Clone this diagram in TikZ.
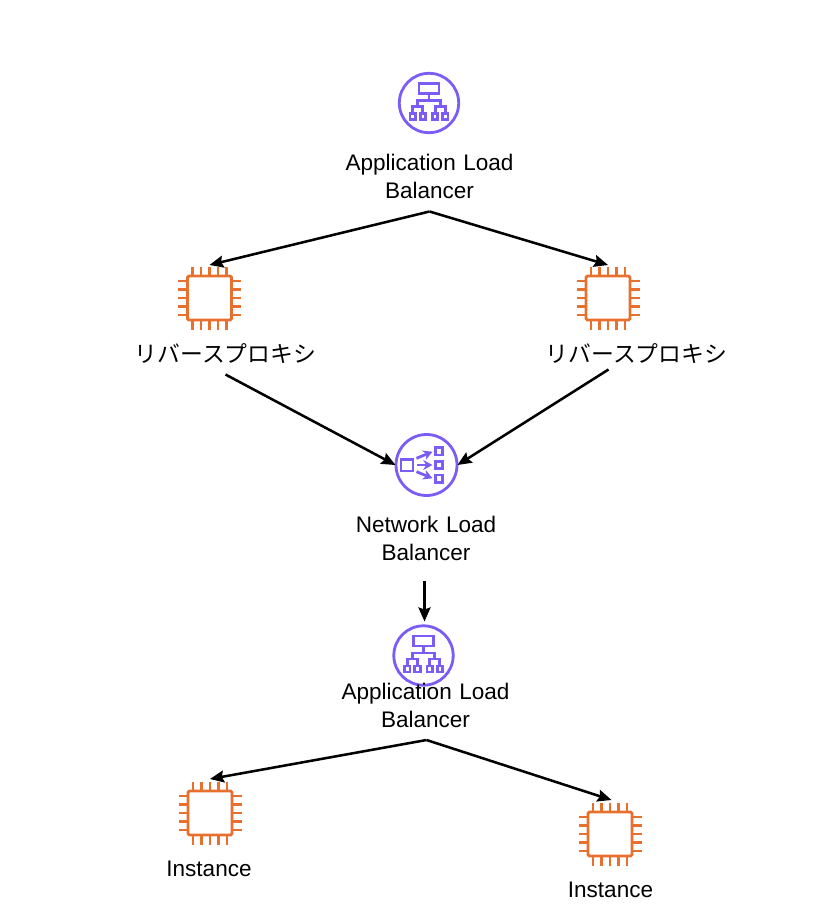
\documentclass[tikz,border=0pt]{standalone}
\usepackage{fontspec}
\setmainfont{Liberation Sans}
\newfontfamily\cjk{Noto Sans CJK JP}
\usetikzlibrary{arrows.meta,calc}
\definecolor{albpurple}{HTML}{7B5CF5}
\definecolor{chiporange}{HTML}{E8702F}
\tikzset{
  iconnode/.style={minimum size=#1,inner sep=0pt,outer sep=0pt},
  lbl/.style={align=center,inner sep=0pt,outer sep=0pt,font=\fontsize{16.9pt}{21pt}\selectfont,text=black},
  conn/.style={draw=black,line width=1.9pt,-{Stealth[length=10.5pt,width=9pt,inset=1.5pt]}},
  albicon/.pic={
    \begin{scope}[albpurple,line width=2.1pt]
      \draw (0,0) circle (29.7);
      \draw (-10,-19.5) rectangle (10,-9.5);
      \draw (0,-9.5) -- (0,-2.6) (-11.2,3.5) |- (11.2,-2.6) -- (11.2,3.5);
      \foreach \a in {-11.2,11.2}{
        \draw (\a-5,10.5) -- (\a-5,3.5) -- (\a+5,3.5) -- (\a+5,10.5);
        \draw (\a-7.8,10.5) rectangle (\a-2.4,16.5);
        \draw (\a+2.4,10.5) rectangle (\a+7.8,16.5);
      }
    \end{scope}
  },
  nlbicon/.pic={
    \begin{scope}[albpurple,line width=2.1pt]
      \draw (0,0) circle (30.5);
      \draw (-25.5,-5.5) rectangle (-13.5,6);
      \draw (9,-17.5) rectangle (16,-10);
      \draw (9,-3.5) rectangle (16,3.5);
      \draw (9,10) rectangle (16,17.5);
      \draw[-{Stealth[length=7pt,width=7.5pt]}] (-10,-6.7) -- (6,-13.3);
      \draw[-{Stealth[length=7pt,width=7.5pt]}] (-10,0) -- (6,0);
      \draw[-{Stealth[length=7pt,width=7.5pt]}] (-10,6.7) -- (6,13.3);
    \end{scope}
  },
  chipicon/.pic={
    \begin{scope}[chiporange,line width=2.1pt]
      \draw[rounded corners=1pt] (-22,-22) rectangle (22,22);
      \foreach \t in {-17,-8.5,0,8.5,17}{
        \draw (\t,-22) -- (\t,-31.5);
        \draw (\t,22) -- (\t,31.5);
        \draw (-22,\t) -- (-31.5,\t);
        \draw (22,\t) -- (31.5,\t);
      }
    \end{scope}
  }
}
\begin{document}
\begin{tikzpicture}[x=0.75pt,y=-0.75pt]
\useasboundingbox (0,0) rectangle (816,920);
% icons
\node[iconnode=62pt*0.75] (albtop) at (429,103) {};
\pic at (albtop) {albicon};
\node[iconnode=66pt*0.75] (chipl) at (209.5,298) {};
\pic at (chipl) {chipicon};
\node[iconnode=66pt*0.75] (chipr) at (608,298) {};
\pic at (chipr) {chipicon};
\node[iconnode=62pt*0.75] (nlb) at (426.5,465) {};
\pic at (nlb) {nlbicon};
\node[iconnode=62pt*0.75] (albbot) at (423.5,655.5) {};
\pic at (albbot) {albicon};
\node[iconnode=66pt*0.75] (chipbl) at (210,813) {};
\pic at (chipbl) {chipicon};
\node[iconnode=66pt*0.75] (chipbr) at (610,834) {};
\pic at (chipbr) {chipicon};
% labels
\node[lbl,text width=180pt*0.75,minimum height=60pt*0.75] (ltop) at (429.5,176.5) {Application Load\\Balancer};
\node[lbl,text width=190pt*0.75,minimum height=24pt*0.75] (lprl) at (225.5,353.5) {\cjk\fontsize{17.1pt}{21pt}\selectfont リバースプロキシ};
\node[lbl,text width=190pt*0.75,minimum height=24pt*0.75] (lprr) at (636.5,353.5) {\cjk\fontsize{17.1pt}{21pt}\selectfont リバースプロキシ};
\node[lbl,text width=150pt*0.75,minimum height=60pt*0.75] (lnlb) at (426,538) {Network Load\\Balancer};
\node[lbl,text width=180pt*0.75,minimum height=60pt*0.75] (lbot) at (425.5,705.5) {Application Load\\Balancer};
\node[lbl,text width=100pt*0.75,minimum height=24pt*0.75] (linl) at (209,868.5) {Instance};
\node[lbl,text width=100pt*0.75,minimum height=24pt*0.75] (linr) at (610.5,890) {Instance};
% connectors
\coordinate (topstart) at ($(ltop.south)+(0,5)$);
\coordinate (lstart) at ($(lprl.south)+(0,9)$);
\coordinate (rstart) at ($(lprr.south)+(-28,4)$);
\coordinate (mstart) at ($(lnlb.south)+(-1.5,12.5)$);
\coordinate (bstart) at ($(lbot.south)+(1,4.5)$);
\draw[conn] (topstart) -- (chipl.north);
\draw[conn] (topstart) -- (chipr.north);
\draw[conn] (lstart) -- (nlb.west);
\draw[conn] (rstart) -- (nlb.east);
\draw[conn] (mstart) -- ($(albbot.north)+(1,-3)$);
\draw[conn] (bstart) -- ($(chipbl.north)+(0,-1)$);
\draw[conn] (bstart) -- ($(chipbr.north)+(1.5,-1)$);
\end{tikzpicture}
\end{document}
